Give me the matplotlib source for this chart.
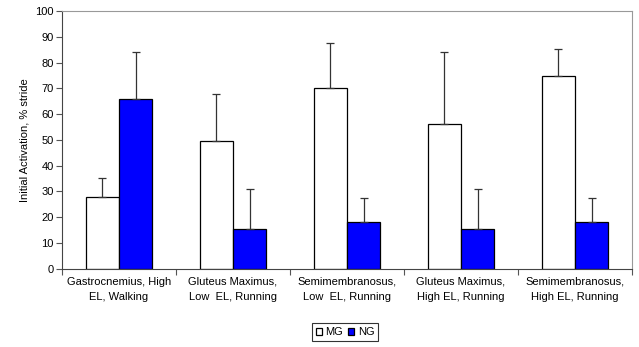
import matplotlib
matplotlib.use('Agg')
import matplotlib.pyplot as plt
import numpy as np

plt.rcParams['font.family'] = ['Liberation Sans', 'DejaVu Sans']

categories = [
    "Gastrocnemius, High\nEL, Walking",
    "Gluteus Maximus,\nLow  EL, Running",
    "Semimembranosus,\nLow  EL, Running",
    "Gluteus Maximus,\nHigh EL, Running",
    "Semimembranosus,\nHigh EL, Running",
]
mg_values = [27.8, 49.4, 70.2, 56.3, 74.7]
ng_values = [66.0, 15.4, 17.9, 15.4, 17.9]
mg_err = [7.5, 18.4, 17.3, 27.8, 10.6]
ng_err = [18.0, 15.5, 9.7, 15.5, 9.7]

fig = plt.figure(figsize=(6.39, 3.47), dpi=100)
ax = fig.add_axes([0.097, 0.226, 0.892, 0.742])

x = np.arange(len(categories))
width = 0.29
err_kw = dict(ecolor='#333333', capsize=3, elinewidth=0.9, capthick=0.9)
ax.bar(x - width / 2, mg_values, width, color='white', edgecolor='black', linewidth=0.9,
       yerr=[np.zeros(len(mg_err)), mg_err], error_kw=err_kw, label='MG')
ax.bar(x + width / 2, ng_values, width, color='#0000FF', edgecolor='black', linewidth=0.9,
       yerr=[np.zeros(len(ng_err)), ng_err], error_kw=err_kw, label='NG')

ax.set_xlim(-0.5, len(categories) - 0.5)
ax.set_ylim(0, 100)
ax.set_yticks(np.arange(0, 101, 10))
ax.set_xticks(np.arange(len(categories) + 1) - 0.5)
ax.set_xticklabels([])
ax.set_xticks(x, minor=True)
ax.set_xticklabels(categories, minor=True, fontsize=8, linespacing=1.6)
ax.tick_params(axis='x', which='minor', length=0, pad=6)
ax.tick_params(axis='x', which='major', length=4, direction='out', color='#555555')
ax.tick_params(axis='y', labelsize=8, length=4, direction='out', color='#555555', pad=2)
ax.set_ylabel("Initial Activation, % stride", fontsize=8)

for side in ['top', 'right']:
    ax.spines[side].set_color('#999999')
for side in ['left', 'bottom']:
    ax.spines[side].set_color('#444444')

leg = fig.legend(loc='center', bbox_to_anchor=(345 / 639, 1 - 332 / 347), ncol=2, fontsize=8,
                 frameon=True, fancybox=False, handlelength=0.6, handleheight=0.6,
                 handletextpad=0.3, columnspacing=0.4, borderpad=0.35)
leg.get_frame().set_edgecolor('black')
leg.get_frame().set_linewidth(0.8)

fig.savefig('out.png', dpi=100)
